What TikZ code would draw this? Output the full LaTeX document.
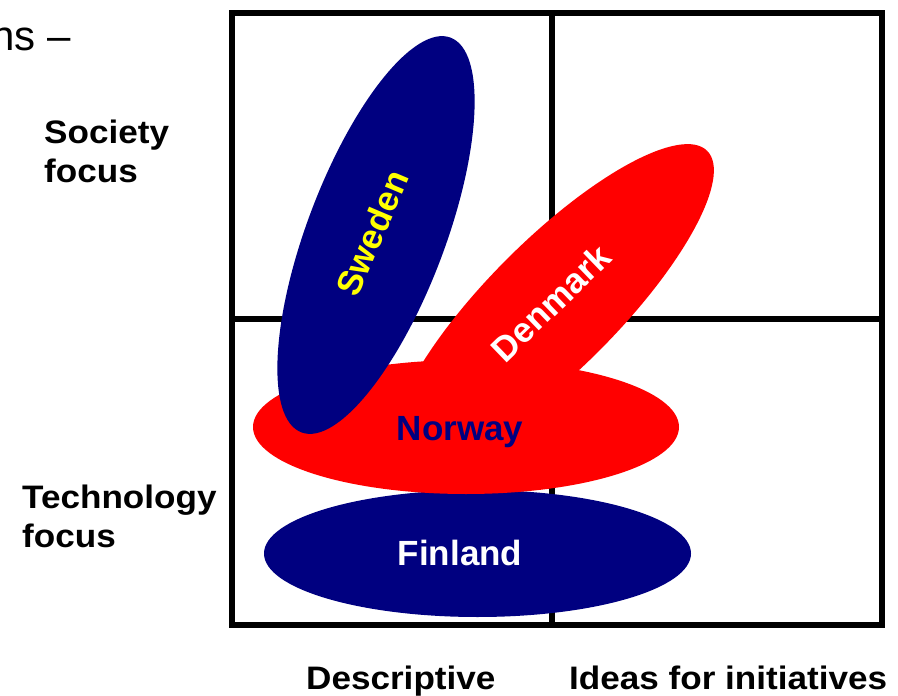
\documentclass[tikz,border=0pt]{standalone}
\usepackage{fontspec}
\setmainfont{Liberation Sans}
\newfontfamily\lblfont[FakeStretch=1.08]{Liberation Sans}
\usetikzlibrary{shapes.geometric}
\definecolor{navy}{RGB}{0,0,128}
\definecolor{pred}{RGB}{255,0,0}
\definecolor{pyellow}{RGB}{255,255,0}
\begin{document}
\begin{tikzpicture}[x=1pt,y=-1pt,
  blob/.style={ellipse, inner sep=0pt, outer sep=0pt, draw=none},
  inlbl/.style={font=\fontsize{35}{40}\selectfont\bfseries, inner sep=0pt},
  outlbl/.style={font=\lblfont\fontsize{32.5}{38}\selectfont\bfseries, inner sep=0pt, anchor=base west},
  gridline/.style={line width=6pt, black}]
\useasboundingbox (0,0) rectangle (898,696);
\fill[white] (0,0) rectangle (898,696);

% title fragment
\node[font=\fontsize{42}{48}\selectfont, inner sep=0pt, anchor=base west] (title) at (-9,50) {ns --};

% quadrant frame
\coordinate (tl) at (232,12.5);
\coordinate (br) at (881.5,625);
\coordinate (tm) at (552,12.5);
\coordinate (bm) at (552,625);
\coordinate (ml) at (232,318.5);
\coordinate (mr) at (881.5,318.5);
\draw[gridline] (tl) rectangle (br);
\draw[gridline] (tm) -- (bm);
\draw[gridline] (ml) -- (mr);

% ellipses
\node[blob, fill=navy, minimum width=427pt, minimum height=127pt] (finland) at (477.5,553.5) {};
\node[blob, fill=pred, minimum width=436pt, minimum height=130pt, rotate=45] (denmark) at (553,305) {};
\node[blob, fill=pred, minimum width=426pt, minimum height=134pt] (norway) at (466,427) {};
\node[blob, fill=navy, minimum width=422pt, minimum height=138pt, rotate=69.3] (sweden) at (376,235) {};

% labels inside
\node[inlbl, text=pyellow, rotate=67] (swedenlbl) at (372,233) {Sweden};
\node[inlbl, text=white, rotate=44] (denmarklbl) at (551,303) {Denmark};
\node[inlbl, text=navy, anchor=base] (norwaylbl) at (460,440) {Norway};
\node[inlbl, text=white, anchor=base] (finlandlbl) at (460,565) {Finland};

% outside labels
\node[outlbl] (soc1) at (44,143) {Society};
\node[outlbl] (soc2) at (44,182) {focus};
\node[outlbl] (tech1) at (22,508) {Technology};
\node[outlbl] (tech2) at (22,547) {focus};
\node[outlbl] (desc) at (306,689) {Descriptive};
\node[outlbl] (ideas) at (569,689) {Ideas for initiatives};
\end{tikzpicture}
\end{document}
